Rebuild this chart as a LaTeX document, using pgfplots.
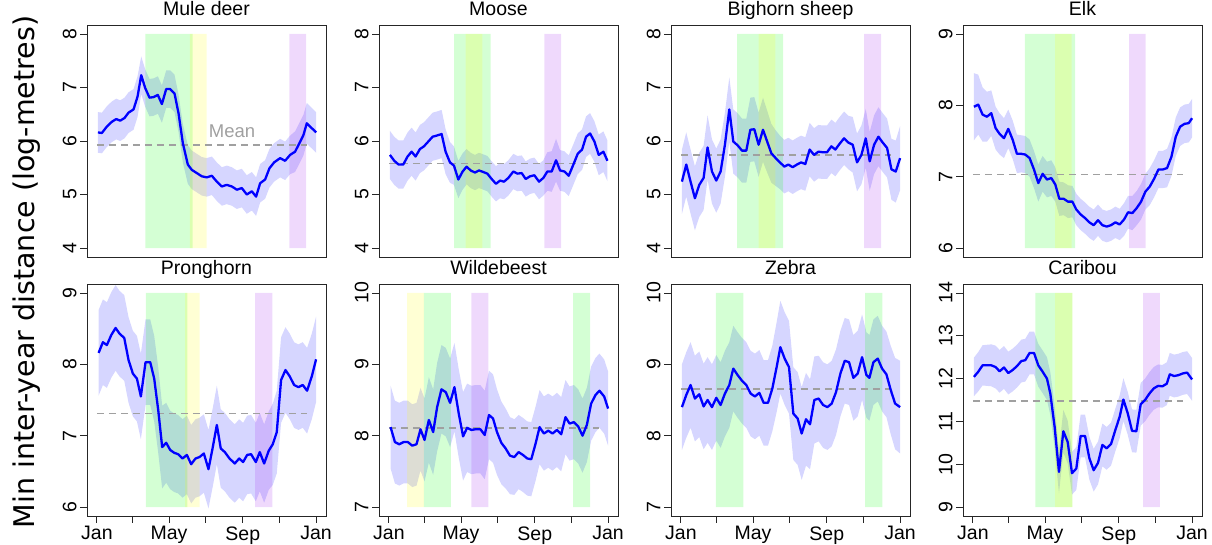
\documentclass[border=0pt]{standalone}
\usepackage{fontspec}
\setmainfont{Liberation Sans}
\newfontfamily\labfont{DejaVu Sans}
\usepackage{pgfplots}
\usepackage{pgfplotstable}
\pgfplotsset{compat=1.18}
\usepgfplotslibrary{fillbetween}

\definecolor{rgreen}{RGB}{0,255,0}
\definecolor{ryellow}{RGB}{255,255,0}
\definecolor{rpurple}{RGB}{160,32,240}
\definecolor{rblue}{RGB}{0,0,255}
\definecolor{meangray}{RGB}{160,160,160}

% columns: day of year, fitted value, lower and upper band
\pgfplotstableread{
d v lo hi
1.7 6.16 5.78 6.54
8.3 6.15 5.77 6.53
16.6 6.27 5.89 6.65
25 6.36 5.98 6.74
32.2 6.41 6.03 6.79
38.8 6.38 6.00 6.76
46 6.43 6.05 6.81
52.7 6.53 6.15 6.91
61 6.59 6.21 6.97
67.7 6.83 6.45 7.21
73.8 7.23 6.88 7.58
80.4 6.99 6.64 7.34
87.6 6.81 6.46 7.16
94.3 6.82 6.47 7.17
101.5 6.86 6.51 7.21
108.2 6.69 6.34 7.04
115.4 6.97 6.62 7.32
122 6.97 6.62 7.32
129.2 6.89 6.54 7.24
135.9 6.52 6.17 6.87
143.1 5.96 5.60 6.32
151.4 5.56 5.20 5.92
158.1 5.46 5.10 5.82
166.4 5.40 5.04 5.76
174.7 5.34 4.98 5.70
183 5.32 4.96 5.68
191.4 5.35 4.99 5.71
199.7 5.24 4.88 5.60
208 5.15 4.79 5.51
216.3 5.18 4.82 5.54
224.7 5.15 4.79 5.51
233 5.09 4.73 5.45
241.3 5.12 4.76 5.48
249.6 5.00 4.64 5.36
258 5.06 4.70 5.42
265.1 4.96 4.60 5.32
271.8 5.21 4.85 5.57
280.1 5.28 4.92 5.64
287.3 5.49 5.13 5.85
295.1 5.60 5.24 5.96
305.1 5.68 5.32 6.04
313.4 5.63 5.27 5.99
321.7 5.74 5.38 6.10
330 5.80 5.42 6.18
337.3 5.96 5.58 6.34
343.9 6.11 5.73 6.49
349.5 6.33 5.95 6.71
357.8 6.24 5.86 6.62
365 6.16 5.78 6.54
}\tabmule

\pgfplotstableread{
d v lo hi
1.7 5.74 5.29 6.19
8.9 5.63 5.18 6.08
16.1 5.56 5.11 6.01
23.9 5.56 5.11 6.01
31.1 5.71 5.26 6.16
37.8 5.80 5.35 6.25
44.4 5.71 5.26 6.16
51.7 5.85 5.40 6.30
58.3 5.90 5.45 6.35
65.6 5.99 5.54 6.44
72.8 6.08 5.63 6.53
79.4 6.10 5.65 6.55
87.8 6.13 5.68 6.58
94.4 5.80 5.38 6.22
101.7 5.60 5.22 5.98
108.3 5.54 5.18 5.90
115.6 5.28 4.93 5.63
122.8 5.43 5.09 5.77
129.4 5.52 5.19 5.85
136.1 5.45 5.12 5.78
143.3 5.41 5.08 5.74
150 5.45 5.12 5.78
157.2 5.42 5.09 5.75
163.9 5.39 5.06 5.72
171.1 5.29 4.96 5.62
178.3 5.20 4.87 5.53
185 5.26 4.93 5.59
191.7 5.24 4.91 5.57
198.9 5.31 4.98 5.64
207.2 5.43 5.10 5.76
213.9 5.39 5.06 5.72
221.1 5.40 5.07 5.73
227.8 5.29 4.96 5.62
235 5.34 5.01 5.67
242.2 5.36 5.03 5.69
250 5.24 4.91 5.57
257.2 5.31 4.98 5.64
263.9 5.43 5.07 5.79
271.1 5.43 5.05 5.81
278.3 5.64 5.24 6.04
285 5.45 5.07 5.83
292.2 5.43 5.05 5.81
299.4 5.35 4.97 5.73
307.2 5.56 5.18 5.94
314.4 5.76 5.38 6.14
321.7 5.84 5.46 6.22
328.3 6.08 5.70 6.46
335 6.14 5.76 6.52
342.2 5.99 5.61 6.37
349.4 5.74 5.36 6.12
357.2 5.80 5.42 6.18
363.9 5.63 5.25 6.01
}\tabmoose

\pgfplotstableread{
d v lo hi
1.7 5.24 4.64 5.84
8.9 5.56 4.96 6.16
16.1 5.24 4.64 5.84
23.3 4.93 4.33 5.53
30.6 5.18 4.58 5.78
37.8 5.31 4.71 5.91
44.4 5.88 5.28 6.48
51.7 5.43 4.83 6.03
58.9 5.26 4.66 5.86
66.1 5.43 4.83 6.03
73.3 5.93 5.33 6.53
80.6 6.59 5.99 7.19
87.2 5.99 5.39 6.59
94.4 5.92 5.32 6.52
101.7 5.82 5.22 6.42
108.9 5.82 5.22 6.42
115.6 6.21 5.61 6.81
122.2 6.22 5.62 6.82
129.4 5.93 5.33 6.53
136.7 6.21 5.61 6.81
143.3 6.00 5.42 6.58
150.6 5.77 5.22 6.32
157.8 5.68 5.16 6.20
165 5.60 5.10 6.10
172.2 5.52 5.02 6.02
178.9 5.56 5.06 6.06
186.1 5.51 5.01 6.01
193.3 5.56 5.06 6.06
200 5.60 5.10 6.10
207.2 5.57 5.07 6.07
214.4 5.84 5.34 6.34
221.7 5.74 5.24 6.24
228.9 5.80 5.30 6.30
236.1 5.79 5.29 6.29
243.3 5.79 5.29 6.29
250.6 5.90 5.40 6.40
257.2 5.84 5.34 6.34
264.4 5.95 5.45 6.45
271.7 6.05 5.55 6.55
278.9 5.97 5.47 6.47
286.1 5.93 5.41 6.45
293.3 5.60 5.06 6.14
300.6 5.74 5.19 6.29
307.8 6.05 5.50 6.60
314.4 5.62 5.07 6.17
321.7 5.93 5.38 6.48
328.9 6.08 5.53 6.63
336.1 5.97 5.42 6.52
343.3 5.87 5.32 6.42
350.6 5.47 4.90 6.04
357.8 5.43 4.85 6.01
365 5.68 5.08 6.28
}\tabsheep

\pgfplotstableread{
d v lo hi
1.7 7.98 7.51 8.45
8.9 8.01 7.59 8.43
16.1 7.87 7.49 8.25
23.3 7.84 7.49 8.19
30.6 7.89 7.57 8.21
37.8 7.68 7.38 7.98
44.4 7.60 7.31 7.89
51.7 7.54 7.26 7.82
58.9 7.67 7.40 7.94
66.1 7.52 7.25 7.79
73.3 7.32 7.05 7.59
80.6 7.32 7.06 7.58
87.2 7.31 7.05 7.57
94.4 7.26 7.00 7.52
101.7 7.10 6.84 7.36
108.9 6.91 6.65 7.17
116.1 7.04 6.79 7.29
123.3 6.96 6.71 7.21
130.6 6.98 6.73 7.23
137.2 6.89 6.65 7.13
143.9 6.69 6.45 6.93
151.1 6.69 6.46 6.92
158.3 6.65 6.42 6.88
165.6 6.65 6.43 6.87
172.2 6.54 6.32 6.76
179.4 6.47 6.25 6.69
186.7 6.42 6.20 6.64
193.9 6.36 6.14 6.58
201.1 6.32 6.10 6.54
208.3 6.39 6.17 6.61
215.6 6.32 6.10 6.54
222.8 6.30 6.08 6.52
230 6.32 6.10 6.54
237.2 6.36 6.14 6.58
244.4 6.33 6.11 6.55
251.7 6.40 6.17 6.63
258.3 6.50 6.27 6.73
265.6 6.49 6.25 6.73
272.8 6.56 6.32 6.80
280 6.65 6.40 6.90
287.2 6.79 6.54 7.04
294.4 6.86 6.60 7.12
301.7 6.97 6.71 7.23
308.9 7.10 6.84 7.36
316.1 7.10 6.84 7.36
323.3 7.12 6.85 7.39
330.6 7.28 7.01 7.55
337.8 7.56 7.29 7.83
345 7.70 7.43 7.97
352.2 7.74 7.47 8.01
359.4 7.75 7.48 8.02
365 7.82 7.55 8.09
}\tabelk

\pgfplotstableread{
d v lo hi
2.8 8.16 7.56 8.76
10 8.31 7.71 8.91
16.6 8.27 7.67 8.87
23.9 8.41 7.81 9.01
31.1 8.51 7.91 9.11
37.7 8.43 7.83 9.03
45.5 8.37 7.77 8.97
52.7 8.06 7.46 8.66
59.9 7.87 7.27 8.47
66.6 7.80 7.20 8.40
73.2 7.55 6.95 8.15
81 8.03 7.43 8.63
88.8 8.03 7.43 8.63
95.4 7.80 7.20 8.40
102.1 7.36 6.76 7.96
108.7 6.84 6.26 7.42
115.4 6.90 6.34 7.46
122 6.80 6.25 7.35
128.7 6.76 6.21 7.31
135.3 6.74 6.19 7.29
142.6 6.68 6.13 7.23
149.8 6.73 6.18 7.28
157 6.60 6.05 7.15
164.2 6.68 6.13 7.23
170.8 6.70 6.15 7.25
178.1 6.75 6.20 7.30
185.8 6.53 5.98 7.08
193 6.84 6.29 7.39
199.7 7.15 6.60 7.70
206.3 6.82 6.27 7.37
213 6.77 6.22 7.32
220.8 6.68 6.13 7.23
229.6 6.61 6.06 7.16
236.9 6.68 6.13 7.23
243.5 6.63 6.08 7.18
250.2 6.73 6.18 7.28
256.8 6.74 6.19 7.29
264.6 6.63 6.08 7.18
271.2 6.77 6.22 7.32
278.5 6.61 6.06 7.16
286.2 6.79 6.24 7.34
292.9 6.88 6.31 7.45
299.5 7.05 6.47 7.63
306.7 7.78 7.18 8.38
314 7.92 7.32 8.52
321.2 7.83 7.23 8.43
328.4 7.71 7.11 8.31
335.6 7.68 7.08 8.28
342.8 7.71 7.11 8.31
350 7.63 7.03 8.23
357.8 7.83 7.23 8.43
365 8.07 7.47 8.67
}\tabprong

\pgfplotstableread{
d v lo hi
2.8 8.12 7.54 8.70
10 7.91 7.33 8.49
17.2 7.88 7.30 8.46
24.4 7.91 7.33 8.49
31.6 7.91 7.33 8.49
38.8 7.86 7.28 8.44
46 7.88 7.30 8.46
52.6 8.09 7.51 8.67
59.3 7.94 7.36 8.52
66.5 8.22 7.62 8.82
73.7 8.05 7.45 8.65
80.3 8.40 7.78 9.02
87.5 8.65 8.03 9.27
94.7 8.61 7.99 9.23
101.9 8.46 7.84 9.08
109.1 8.68 8.06 9.30
116.3 8.31 7.69 8.93
123.5 7.99 7.37 8.61
130.2 8.11 7.49 8.73
137.4 8.08 7.46 8.70
144.6 8.09 7.47 8.71
152.3 8.09 7.47 8.71
159.5 8.01 7.39 8.63
166.7 8.29 7.67 8.91
173.4 8.24 7.62 8.86
180 8.05 7.45 8.65
187.2 7.90 7.32 8.48
194.4 7.82 7.26 8.38
201.6 7.72 7.18 8.26
208.8 7.70 7.17 8.23
216 7.77 7.25 8.29
223.2 7.73 7.21 8.25
230.4 7.68 7.16 8.20
237.1 7.67 7.15 8.19
244.3 7.89 7.37 8.41
250.9 8.12 7.60 8.64
258.1 8.03 7.51 8.55
265.3 8.07 7.55 8.59
272.5 8.03 7.51 8.55
279.7 8.08 7.56 8.60
286.9 8.02 7.50 8.54
294.1 8.26 7.74 8.78
300.8 8.17 7.65 8.69
308 8.19 7.67 8.71
315.2 8.13 7.61 8.65
322.4 8.00 7.48 8.52
329.6 8.15 7.63 8.67
336.8 8.45 7.93 8.97
344 8.57 8.05 9.09
350.6 8.63 8.11 9.15
358.4 8.55 8.03 9.07
365 8.38 7.86 8.90
}\tabwilde

\pgfplotstableread{
d v lo hi
1.7 8.40 7.80 9.00
8.9 8.57 7.97 9.17
16.1 8.71 8.11 9.31
23.3 8.52 7.92 9.12
30.6 8.58 7.98 9.18
37.8 8.41 7.81 9.01
44.4 8.50 7.90 9.10
51.7 8.40 7.80 9.00
58.9 8.53 7.93 9.13
66.1 8.43 7.83 9.03
73.3 8.59 7.99 9.19
80.6 8.71 8.11 9.31
87.2 8.94 8.34 9.54
94.4 8.85 8.25 9.45
101.7 8.77 8.17 9.37
108.9 8.71 8.11 9.31
116.1 8.59 7.99 9.19
123.3 8.55 7.95 9.15
130.6 8.60 8.00 9.20
137.8 8.46 7.86 9.06
145 8.46 7.86 9.06
152.2 8.66 8.06 9.26
159.4 8.96 8.33 9.59
165.6 9.24 8.59 9.89
172.8 9.08 8.43 9.73
180 8.96 8.31 9.61
187.2 8.31 7.66 8.96
194.4 8.24 7.59 8.89
201.1 8.03 7.38 8.68
208.3 8.23 7.58 8.88
215 8.16 7.53 8.79
222.2 8.50 7.89 9.11
229.4 8.52 7.92 9.12
236.7 8.43 7.83 9.03
243.9 8.40 7.80 9.00
251.1 8.45 7.85 9.05
258.3 8.61 8.01 9.21
265.6 8.87 8.27 9.47
272.8 9.05 8.45 9.65
280 9.03 8.43 9.63
287.2 8.81 8.21 9.41
294.4 8.87 8.27 9.47
301.7 9.10 8.50 9.70
308.9 8.85 8.25 9.45
313.9 8.81 8.21 9.41
320.6 9.03 8.43 9.63
327.8 9.08 8.48 9.68
335 8.94 8.34 9.54
342.2 8.86 8.26 9.46
349.4 8.64 8.02 9.26
356.7 8.45 7.81 9.09
365 8.40 7.75 9.05
}\tabzebra

\pgfplotstableread{
d v lo hi
1.7 12.04 11.59 12.49
8.9 12.16 11.70 12.62
16.1 12.31 11.84 12.78
23.3 12.31 11.83 12.79
30.6 12.31 11.82 12.80
37.8 12.27 11.77 12.77
44.4 12.17 11.67 12.67
51.7 12.26 11.76 12.76
58.9 12.13 11.63 12.63
66.1 12.20 11.70 12.70
73.3 12.29 11.79 12.79
80.6 12.41 11.91 12.91
87.2 12.43 11.93 12.93
94.4 12.60 12.10 13.10
101.7 12.60 12.10 13.10
108.9 12.31 11.81 12.81
116.1 12.16 11.66 12.66
123.3 12.00 11.50 12.50
128.9 11.65 11.15 12.15
136.1 10.87 10.37 11.37
143.3 9.82 9.32 10.32
150.6 10.77 10.27 11.27
157.8 10.52 10.02 11.02
165 9.79 9.29 10.29
172.2 9.90 9.40 10.40
179.4 10.66 10.16 11.16
186.7 10.66 10.16 11.16
193.9 10.14 9.64 10.64
201.1 9.86 9.36 10.36
208.3 10.03 9.53 10.53
215.6 10.45 9.95 10.95
222.8 10.37 9.87 10.87
230 10.47 9.97 10.97
237.2 10.80 10.30 11.30
244.4 11.11 10.61 11.61
250.6 11.51 11.01 12.01
257.8 11.19 10.69 11.69
265 10.78 10.28 11.28
272.2 10.77 10.27 11.27
279.4 11.40 10.90 11.90
286.7 11.50 11.00 12.00
293.9 11.65 11.15 12.15
301.1 11.77 11.27 12.27
308.3 11.83 11.33 12.33
315.6 11.82 11.32 12.32
322.8 11.88 11.38 12.38
327.8 12.10 11.60 12.60
335 12.06 11.56 12.56
342.2 12.08 11.58 12.58
349.4 12.12 11.62 12.62
356.7 12.14 11.64 12.64
365 11.98 11.48 12.48
}\tabcaribou

\pgfplotsset{
  panel/.style={
    scale only axis, width=239pt, height=232pt,
    xmin=-16.5, xmax=381.5,
    axis line style={black!85, line width=0.9pt},
    tick style={black!85, line width=0.9pt},
    tick align=outside, major tick length=7pt,
    ytick pos=left, xtick pos=bottom,
    /pgf/number format/assume math mode=true,
    tick label style={font=\fontsize{19.5}{19.5}\selectfont},
    yticklabel style={rotate=90, anchor=south},
    title style={font=\fontsize{19.5}{19.5}\selectfont, at={(0.5,1)}, anchor=base, yshift=3pt},
  },
  toprow/.style={xtick=\empty},
  botrow/.style={xtick={0,59,120,181,243,304,365}, xticklabels={Jan,,May,,Sep,,Jan}},
  meanline/.style={meangray, line width=1.8pt, dash pattern=on 7pt off 5pt},
  curve/.style={rblue, line width=2.3pt, line join=round},
}

% shaded period: colour, from, to, bottom, top
\newcommand{\period}[5]{%
  \addplot[draw=none, fill=#1, fill opacity=0.17] coordinates {(#2,#4) (#2,#5) (#3,#5) (#3,#4) (#2,#4)};}

% band, mean line and fitted curve: table, id, mean
\newcommand{\series}[3]{%
  \addplot[name path=hi#2, draw=none] table[x=d,y=hi] {#1};
  \addplot[name path=lo#2, draw=none] table[x=d,y=lo] {#1};
  \addplot[fill=rblue, fill opacity=0.16, draw=none] fill between[of=hi#2 and lo#2];
  \addplot[meanline] coordinates {(0,#3) (350,#3)};
  \addplot[curve] table[x=d,y=v] {#1};}

\begin{document}
\begin{tikzpicture}

\node[rotate=90, anchor=base, font=\labfont\fontsize{28.5}{28.5}\selectfont] at (34pt,273pt) {Min inter-year distance (log-metres)};

% top row
\begin{axis}[panel, toprow, at={(87pt,288pt)}, anchor=south west,
  ymin=3.832, ymax=8.168, ytick={4,5,6,7,8}, title={Mule deer}]
\period{rgreen}{80.5}{159.5}{4}{8}
\period{ryellow}{155}{182.7}{4}{8}
\period{rpurple}{320.5}{348.3}{4}{8}
\series{\tabmule}{a}{5.93}
\node[text=meangray, font=\fontsize{18.5}{18.5}\selectfont, anchor=base] at (axis cs:225,6.07) {Mean};
\end{axis}

\begin{axis}[panel, toprow, at={(379pt,288pt)}, anchor=south west,
  ymin=3.832, ymax=8.168, ytick={4,5,6,7,8}, title={Moose}]
\period{rgreen}{108.8}{169.5}{4}{8}
\period{ryellow}{127.8}{155.5}{4}{8}
\period{rpurple}{258.8}{286.7}{4}{8}
\series{\tabmoose}{b}{5.58}
\end{axis}

\begin{axis}[panel, toprow, at={(671pt,288pt)}, anchor=south west,
  ymin=3.832, ymax=8.168, ytick={4,5,6,7,8}, title={Bighorn sheep}]
\period{rgreen}{93.8}{170}{4}{8}
\period{ryellow}{129.5}{157.2}{4}{8}
\period{rpurple}{305}{333.3}{4}{8}
\series{\tabsheep}{c}{5.74}
\end{axis}

\begin{axis}[panel, toprow, at={(963pt,288pt)}, anchor=south west,
  ymin=5.874, ymax=9.126, ytick={6,7,8,9}, title={Elk}]
\period{rgreen}{86.7}{170}{6}{9}
\period{ryellow}{136.7}{164.5}{6}{9}
\period{rpurple}{260}{287.8}{6}{9}
\series{\tabelk}{d}{7.03}
\end{axis}

% bottom row
\begin{axis}[panel, botrow, at={(87pt,29pt)}, anchor=south west,
  ymin=5.874, ymax=9.126, ytick={6,7,8,9}, title={Pronghorn}]
\period{rgreen}{81.7}{150.5}{6}{9}
\period{ryellow}{146.7}{171}{6}{9}
\period{rpurple}{263.3}{292.2}{6}{9}
\series{\tabprong}{e}{7.31}
\end{axis}

\begin{axis}[panel, botrow, at={(379pt,29pt)}, anchor=south west,
  ymin=6.874, ymax=10.126, ytick={7,8,9,10}, title={Wildebeest}]
\period{ryellow}{30.5}{58.3}{7}{10}
\period{rgreen}{58.3}{103.3}{7}{10}
\period{rpurple}{137.2}{165.5}{7}{10}
\period{rgreen}{306.7}{335}{7}{10}
\series{\tabwilde}{f}{8.11}
\end{axis}

\begin{axis}[panel, botrow, at={(671pt,29pt)}, anchor=south west,
  ymin=6.874, ymax=10.126, ytick={7,8,9,10}, title={Zebra}]
\period{rgreen}{58.3}{103.8}{7}{10}
\period{rgreen}{306.7}{335.5}{7}{10}
\series{\tabzebra}{g}{8.65}
\end{axis}

\begin{axis}[panel, botrow, at={(963pt,29pt)}, anchor=south west,
  ymin=8.79, ymax=14.21, ytick={9,10,11,12,13,14}, title={Caribou}]
\period{rgreen}{104}{165.5}{9}{14}
\period{ryellow}{136.7}{165.5}{9}{14}
\period{rpurple}{283.3}{311.2}{9}{14}
\series{\tabcaribou}{h}{11.48}
\end{axis}

\pgfresetboundingbox
\useasboundingbox (0,0) rectangle (1212pt,545pt);
\end{tikzpicture}
\end{document}
